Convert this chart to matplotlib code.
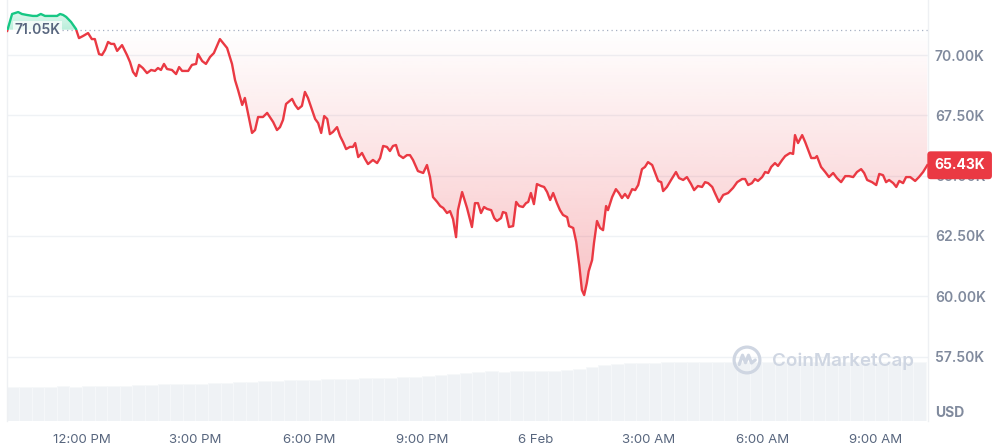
import numpy as np
import matplotlib
matplotlib.use("Agg")
import matplotlib.pyplot as plt
from matplotlib.patches import Rectangle, Circle
from matplotlib.path import Path

RED = "#ea3943"
GREEN = "#16c784"
GRID = "#eff2f5"
TICK_GREY = "#808a9d"
TEXT_GREY = "#58667e"
VOL_COLOR = "#eff2f5"
WATERMARK = "#cfd6e2"

# hours since 5 Feb 00:00
hours = [
    10.02, 10.15, 10.23, 10.31, 10.41, 10.54, 10.70, 10.81, 10.91, 11.02,
    11.21, 11.34, 11.42, 11.50, 11.58, 11.71, 11.84, 11.92, 12.03, 12.16,
    12.26, 12.34, 12.45, 12.53, 12.61, 12.69, 12.77, 12.85, 12.93, 13.06,
    13.19, 13.27, 13.35, 13.43, 13.51, 13.61, 13.72, 13.83, 13.93, 14.01,
    14.09, 14.17, 14.25, 14.38, 14.49, 14.57, 14.65, 14.81, 14.91, 15.02,
    15.07, 15.18, 15.28, 15.39, 15.49, 15.65, 15.84, 15.97, 16.05, 16.13,
    16.24, 16.31, 16.50, 16.58, 16.66, 16.79, 16.90, 17.06, 17.16, 17.24,
    17.32, 17.40, 17.56, 17.64, 17.72, 17.82, 17.90, 17.98, 18.09, 18.17,
    18.25, 18.33, 18.41, 18.49, 18.56, 18.64, 18.75, 18.83, 18.91, 18.99,
    19.09, 19.17, 19.23, 19.31, 19.41, 19.49, 19.57, 19.70, 19.81, 19.89,
    19.97, 20.07, 20.15, 20.23, 20.31, 20.39, 20.50, 20.60, 20.68, 20.76,
    20.89, 21.03, 21.13, 21.21, 21.29, 21.40, 21.48, 21.56, 21.66, 21.74,
    21.82, 21.90, 21.95, 22.06, 22.19, 22.32, 22.40, 22.48, 22.56, 22.64,
    22.72, 22.83, 22.91, 22.98, 23.09, 23.14, 23.22, 23.30, 23.41, 23.49,
    23.57, 23.67, 23.75, 23.81, 23.88, 23.96, 24.04, 24.15, 24.23, 24.31,
    24.39, 24.47, 24.57, 24.65, 24.73, 24.84, 24.89, 25.00, 25.08, 25.16,
    25.23, 25.29, 25.36, 25.41, 25.50, 25.55, 25.63, 25.71, 25.79, 25.87,
    25.92, 26.03, 26.13, 26.21, 26.29, 26.37, 26.45, 26.56, 26.64, 26.72,
    26.82, 26.90, 26.98, 27.09, 27.17, 27.25, 27.33, 27.38, 27.48, 27.59,
    27.72, 27.80, 27.91, 28.01, 28.12, 28.20, 28.30, 28.41, 28.49, 28.57,
    28.68, 28.75, 28.86, 28.97, 29.10, 29.23, 29.34, 29.47, 29.55, 29.63,
    29.73, 29.81, 29.89, 30.00, 30.08, 30.16, 30.24, 30.34, 30.42, 30.53,
    30.61, 30.74, 30.82, 30.87, 30.95, 31.06, 31.14, 31.22, 31.30, 31.40,
    31.45, 31.56, 31.67, 31.77, 31.88, 31.98, 32.09, 32.20, 32.30, 32.41,
    32.51, 32.62, 32.70, 32.78, 32.91, 33.02, 33.10, 33.20, 33.28, 33.36,
    33.47, 33.55, 33.63, 33.73, 33.81, 33.92, 34.05, 34.15, 34.26, 34.37,
]

# BTC price, thousands of USD
price_k = [
    71.00, 71.70, 71.74, 71.78, 71.70, 71.66, 71.62, 71.62, 71.70, 71.62,
    71.62, 71.62, 71.70, 71.66, 71.58, 71.37, 71.08, 70.70, 70.79, 70.91,
    70.66, 70.66, 70.04, 70.00, 70.21, 70.54, 70.46, 70.46, 70.17, 70.41,
    70.00, 69.71, 69.30, 69.13, 69.59, 69.46, 69.25, 69.38, 69.34, 69.46,
    69.38, 69.63, 69.42, 69.38, 69.21, 69.50, 69.34, 69.34, 69.59, 69.63,
    70.04, 69.75, 69.63, 69.92, 70.08, 70.66, 70.29, 69.63, 68.96, 68.55,
    67.93, 68.22, 66.77, 66.89, 67.43, 67.43, 67.60, 67.22, 66.89, 67.01,
    67.31, 67.97, 68.18, 67.93, 67.76, 67.89, 68.47, 68.22, 67.72, 67.35,
    67.18, 66.77, 67.47, 67.35, 66.72, 66.81, 67.01, 66.64, 66.39, 66.10,
    66.19, 66.19, 66.35, 65.77, 65.94, 65.69, 65.48, 65.65, 65.52, 65.73,
    66.23, 66.19, 66.02, 66.23, 66.27, 65.85, 65.73, 65.85, 65.85, 65.65,
    65.19, 65.11, 65.44, 64.94, 64.11, 63.91, 63.74, 63.66, 63.45, 63.53,
    63.20, 62.45, 63.57, 64.32, 63.66, 62.87, 63.86, 63.86, 63.45, 63.70,
    63.62, 63.57, 63.24, 63.12, 63.24, 63.49, 63.45, 62.87, 62.91, 63.91,
    63.74, 63.70, 63.86, 63.91, 64.28, 63.82, 64.65, 64.57, 64.53, 64.32,
    63.99, 64.28, 63.86, 63.57, 63.37, 63.28, 62.91, 62.83, 62.25, 61.29,
    60.26, 60.05, 60.55, 61.04, 61.50, 62.21, 63.12, 62.83, 62.74, 63.74,
    63.57, 64.11, 64.44, 64.28, 64.07, 64.24, 64.07, 64.44, 64.40, 64.61,
    65.27, 65.36, 65.56, 65.44, 65.11, 64.78, 64.73, 64.36, 64.53, 64.82,
    65.15, 64.90, 64.82, 64.94, 64.65, 64.40, 64.57, 64.53, 64.73, 64.69,
    64.53, 64.28, 63.91, 64.20, 64.28, 64.49, 64.73, 64.86, 64.86, 64.61,
    64.69, 64.86, 64.78, 64.94, 65.15, 65.11, 65.36, 65.52, 65.40, 65.65,
    65.81, 65.94, 65.90, 66.68, 66.35, 66.68, 66.39, 66.06, 65.73, 65.73,
    65.81, 65.36, 65.15, 64.94, 65.11, 64.90, 64.73, 64.98, 64.98, 64.94,
    65.15, 65.27, 65.11, 64.82, 64.73, 64.61, 65.07, 65.02, 64.73, 64.82,
    64.69, 64.53, 64.78, 64.69, 64.94, 64.94, 64.78, 64.94, 65.15, 65.43,
]

open_price_k = 71.05
last_label = "65.43K"

# 24h volume (billions USD), one value every 20 minutes from 10:00
volume_b = [
    48.5, 48.5, 48.5, 48.5, 49.9, 48.5, 49.9, 49.9, 49.9, 49.9,
    51.3, 51.3, 52.7, 52.7, 52.7, 52.7, 54.2, 54.2, 55.6, 55.6,
    57.0, 57.0, 58.4, 58.4, 58.4, 59.9, 59.9, 59.9, 61.3, 61.3,
    61.3, 62.7, 62.7, 64.1, 65.5, 67.0, 68.4, 69.8, 71.3, 69.8,
    71.3, 71.3, 71.3, 71.3, 72.7, 74.1, 77.0, 79.8, 81.2, 82.7,
    82.7, 82.7, 83.4, 83.4, 84.1, 83.4, 83.4, 84.1, 84.1, 83.4,
    83.4, 84.1, 84.1, 83.4, 84.1, 84.1, 83.4, 84.1, 84.1, 84.1,
    83.4, 84.1, 84.1,
]
volume_start = 10.0
volume_step = 1 / 3

x_ticks = [12, 15, 18, 21, 24, 27, 30, 33]
x_labels = ["12:00 PM", "3:00 PM", "6:00 PM", "9:00 PM", "6 Feb", "3:00 AM", "6:00 AM", "9:00 AM"]
y_ticks = [57.5, 60.0, 62.5, 65.0, 67.5, 70.0]
y_labels = ["57.50K", "60.00K", "62.50K", "65.00K", "67.50K", "70.00K"]


def gradient(ax, color, y_top, y_bottom, a_top, a_bottom, clip, xlim):
    rgba = np.zeros((256, 1, 4))
    rgba[..., :3] = matplotlib.colors.to_rgb(color)
    rgba[:, 0, 3] = np.linspace(a_top, a_bottom, 256)
    im = ax.imshow(rgba, extent=[xlim[0], xlim[1], y_bottom, y_top],
                   origin="upper", aspect="auto", zorder=1, interpolation="bilinear")
    im.set_clip_path(clip, ax.transData)


def main():
    plt.rcParams["font.family"] = ["Inter", "DejaVu Sans"]
    t = np.array(hours)
    p = np.array(price_k)
    xlim = (10.015, 34.39)
    ylim = (54.83, 72.28)

    fig = plt.figure(figsize=(9.92, 4.48), dpi=100)
    fig.patch.set_facecolor("white")
    ax = fig.add_axes([7 / 992, 27 / 448, 921 / 992, 421 / 448])

    vol = ax.twinx()
    vol.set_zorder(ax.get_zorder() - 1)
    ax.patch.set_visible(False)
    vol.patch.set_visible(False)
    vol_x = volume_start + volume_step * np.arange(len(volume_b))
    vol.bar(vol_x, volume_b, width=volume_step, align="edge", color=VOL_COLOR,
            edgecolor="#f6f8fa", linewidth=0.6)
    vol.set_ylim(0, 600)
    vol.set_yticks([])
    for s in vol.spines.values():
        s.set_visible(False)

    # fills: green above the open, red below
    up = ax.fill_between(t, p, open_price_k, where=p >= open_price_k, interpolate=True,
                         facecolor="none", edgecolor="none")
    down = ax.fill_between(t, p, open_price_k, where=p <= open_price_k, interpolate=True,
                           facecolor="none", edgecolor="none")
    up_path = Path.make_compound_path(*up.get_paths())
    down_path = Path.make_compound_path(*down.get_paths())
    gradient(ax, GREEN, ylim[1], open_price_k, 0.04, 0.3, up_path, xlim)
    gradient(ax, RED, open_price_k, 58.0, 0.0, 0.36, down_path, xlim)

    line_up, = ax.plot(t, p, color=GREEN, lw=1.7, zorder=3, solid_joinstyle="round")
    line_dn, = ax.plot(t, p, color=RED, lw=1.7, zorder=3, solid_joinstyle="round")
    line_up.set_clip_path(Rectangle((xlim[0], open_price_k), xlim[1] - xlim[0],
                                    ylim[1] - open_price_k + 1, transform=ax.transData))
    line_dn.set_clip_path(Rectangle((xlim[0], ylim[0] - 1), xlim[1] - xlim[0],
                                    open_price_k - ylim[0] + 1, transform=ax.transData))

    ax.axhline(open_price_k, xmin=0.06, color="#a6b0c3", lw=0.9,
               linestyle=(0, (1, 2.6)), zorder=2)
    ax.text(xlim[0] + 0.19, open_price_k, f"{open_price_k:.2f}K", ha="left", va="center",
            fontsize=10, fontweight="semibold", color=TEXT_GREY, zorder=4,
            bbox=dict(facecolor="white", alpha=0.75, edgecolor="none", pad=1.2))

    ax.set_xlim(*xlim)
    ax.set_ylim(*ylim)
    ax.set_xticks(x_ticks)
    ax.set_xticklabels(x_labels)
    ax.set_yticks(y_ticks)
    ax.set_yticklabels(y_labels)
    ax.yaxis.tick_right()
    ax.tick_params(axis="y", length=0, pad=5, labelsize=10, labelcolor=TICK_GREY)
    ax.tick_params(axis="x", length=0, pad=9, labelsize=9.5, labelcolor=TEXT_GREY)
    for lbl in ax.get_yticklabels():
        lbl.set_fontweight("semibold")
    ax.yaxis.grid(True, color=GRID, lw=1)
    ax.set_axisbelow(True)
    for side in ["top", "bottom"]:
        ax.spines[side].set_visible(False)
    for side in ["left", "right"]:
        ax.spines[side].set_color("#eef0f3")
        ax.spines[side].set_linewidth(1)

    # current price tag sits over the 65.00K tick, as in the live chart
    ax.annotate(last_label, xy=(1, price_k[-1]), xycoords=("axes fraction", "data"),
                xytext=(4.5, 0), textcoords="offset points", ha="left", va="center",
                color="white", fontsize=10, fontweight="bold", zorder=10,
                annotation_clip=False,
                bbox=dict(boxstyle="round,pad=0.5,rounding_size=0.25", fc=RED, ec="none"))

    fig.text(935 / 992, (448 - 413) / 448, "USD", ha="left", va="center",
             fontsize=10, fontweight="bold", color=TICK_GREY)

    # watermark
    logo = fig.add_axes([732 / 992, (448 - 375) / 448, 30 / 992, 30 / 448])
    logo.set_xlim(-1, 1)
    logo.set_ylim(-1, 1)
    logo.set_aspect("equal")
    logo.axis("off")
    logo.add_patch(Circle((0, 0), 0.86, fill=False, lw=2.3, color=WATERMARK))
    logo.plot([-0.52, -0.3, -0.1, 0.1, 0.3, 0.55], [-0.3, 0.32, -0.18, 0.32, -0.2, 0.0],
              color=WATERMARK, lw=2.3, solid_joinstyle="round", solid_capstyle="round")
    fig.text(772 / 992, (448 - 361) / 448, "CoinMarketCap", ha="left", va="center",
             fontsize=13.5, fontweight="semibold", color=WATERMARK)

    fig.savefig("out.png", dpi=100, facecolor="white")
    plt.close(fig)


if __name__ == "__main__":
    main()
